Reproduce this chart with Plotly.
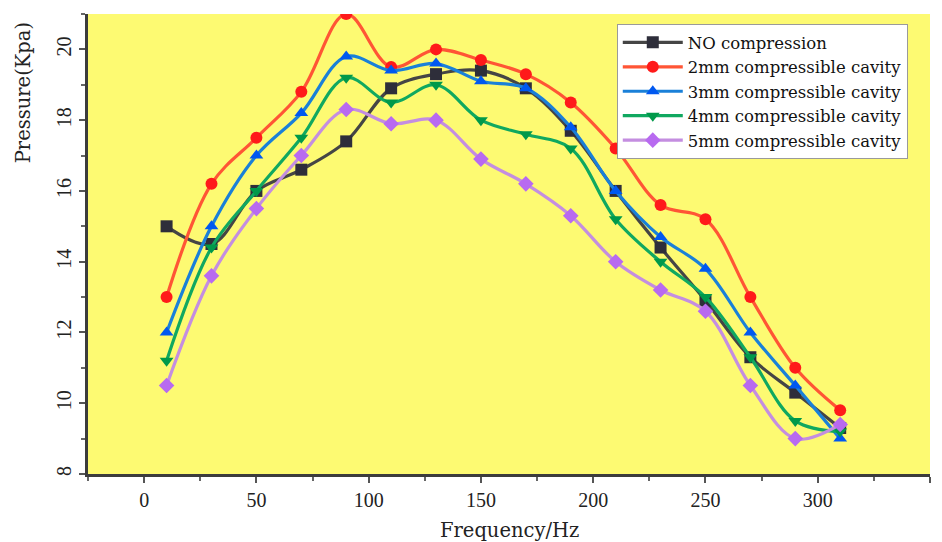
import plotly.graph_objects as go

# Frequency sweep (Hz)
frequency = [10, 30, 50, 70, 90, 110, 130, 150, 170, 190, 210, 230, 250, 270, 290, 310]

# Measured pressure (kPa) for each configuration
no_compression = [15.0, 14.5, 16.0, 16.6, 17.4, 18.9, 19.3, 19.4, 18.9, 17.7, 16.0, 14.4, 12.9, 11.3, 10.3, 9.3]
cavity_2mm = [13.0, 16.2, 17.5, 18.8, 21.0, 19.5, 20.0, 19.7, 19.3, 18.5, 17.2, 15.6, 15.2, 13.0, 11.0, 9.8]
cavity_3mm = [12.0, 15.0, 17.0, 18.2, 19.8, 19.4, 19.6, 19.1, 18.9, 17.8, 16.0, 14.7, 13.8, 12.0, 10.5, 9.0]
cavity_4mm = [11.2, 14.4, 16.0, 17.5, 19.2, 18.5, 19.0, 18.0, 17.6, 17.2, 15.2, 14.0, 13.0, 11.3, 9.5, 9.2]
cavity_5mm = [10.5, 13.6, 15.5, 17.0, 18.3, 17.9, 18.0, 16.9, 16.2, 15.3, 14.0, 13.2, 12.6, 10.5, 9.0, 9.4]

series = [
    ("NO compression", no_compression, "#454545", "#2e2e3a", "square"),
    ("2mm compressible cavity", cavity_2mm, "#ff5535", "#ff1a1a", "circle"),
    ("3mm compressible cavity", cavity_3mm, "#1a80d8", "#0058f0", "triangle-up"),
    ("4mm compressible cavity", cavity_4mm, "#10a860", "#00994a", "triangle-down"),
    ("5mm compressible cavity", cavity_5mm, "#c48ee0", "#b86af0", "diamond"),
]

fig = go.Figure()
for name, values, line_color, marker_color, symbol in series:
    fig.add_trace(go.Scatter(
        x=frequency, y=values, name=name, mode="lines+markers",
        line=dict(color=line_color, width=3.2, shape="spline", smoothing=1.0),
        marker=dict(symbol=symbol, size=12, color=marker_color, line=dict(width=0)),
    ))

tick_font = dict(family="Liberation Serif, DejaVu Serif, serif", size=20, color="#222")
title_font = dict(family="DejaVu Serif, Liberation Serif, serif", size=19.5, color="#222")

fig.update_layout(
    width=942, height=542,
    margin=dict(l=88, r=12, t=14, b=68, autoexpand=False),
    paper_bgcolor="white",
    plot_bgcolor="#fdfa72",
    showlegend=True,
    legend=dict(
        x=0.628, y=0.978, xanchor="left", yanchor="top",
        bgcolor="white", bordercolor="#9a9a9a", borderwidth=1,
        font=dict(family="DejaVu Serif, Liberation Serif, serif", size=16.5, color="#111"),
        tracegroupgap=0, itemwidth=60,
    ),
    xaxis=dict(
        range=[-25, 350], tickmode="array", tickvals=[0, 50, 100, 150, 200, 250, 300, 350],
        showgrid=False, zeroline=False, automargin=False,
        showline=True, linecolor="#3c3c3c", linewidth=3,
        ticks="outside", ticklen=6, tickwidth=2, tickcolor="#555",
        minor=dict(ticks="outside", ticklen=4, tickwidth=2, tickcolor="#666", dtick=25, tick0=0),
        tickfont=tick_font,
    ),
    yaxis=dict(
        range=[8, 21], tickmode="array", tickvals=[8, 10, 12, 14, 16, 18, 20],
        showgrid=False, zeroline=False, automargin=False,
        showline=True, linecolor="#3c3c3c", linewidth=3,
        ticks="outside", ticklen=6, tickwidth=2, tickcolor="#555",
        minor=dict(ticks="outside", ticklen=4, tickwidth=2, tickcolor="#666", dtick=1, tick0=8),
        tickfont=tick_font, tickangle=-90,
    ),
    annotations=[
        dict(
            text="Pressure(Kpa)", xref="paper", yref="paper", x=-0.077, y=0.828,
            xanchor="center", yanchor="middle", textangle=-90, showarrow=False,
            font=title_font,
        ),
        dict(
            text="Frequency/Hz", xref="paper", yref="paper", x=0.5, y=-0.122,
            xanchor="center", yanchor="middle", showarrow=False,
            font=title_font,
        ),
    ],
)

fig.write_html("out.html")
